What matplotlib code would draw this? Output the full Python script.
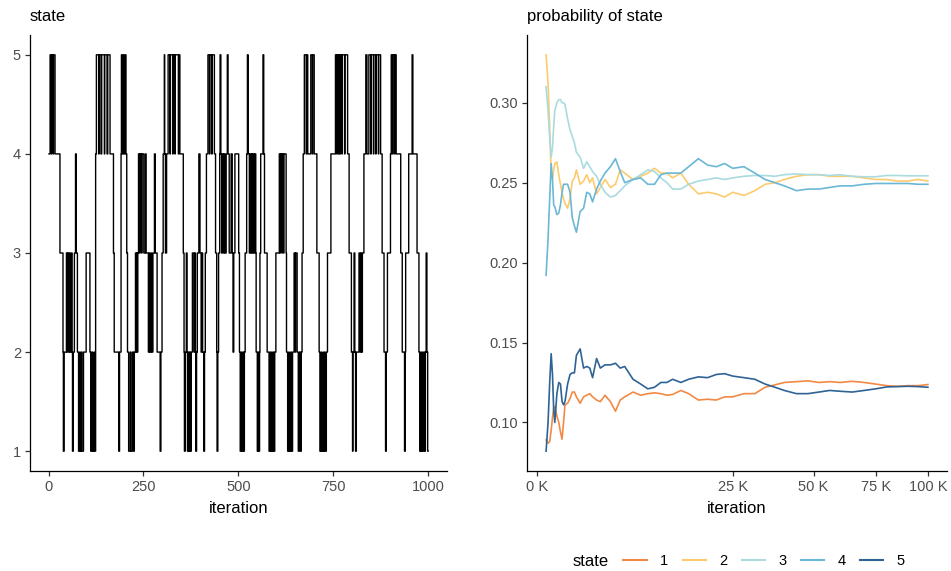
import numpy as np
import matplotlib
matplotlib.use('Agg')
import matplotlib.pyplot as plt
from matplotlib.lines import Line2D

plt.rcParams['font.family'] = ['Liberation Sans', 'DejaVu Sans']

# state trace: runs of (state, length in iterations)
state_runs = [
    (4, 3), (5, 3), (4, 1), (5, 4), (4, 1), (5, 4), (4, 13), (3, 8),
    (2, 1), (1, 2), (2, 6), (3, 2), (2, 1), (3, 3), (2, 2), (3, 2), (2, 3), (3, 2),
    (2, 1), (1, 2), (2, 3), (3, 3), (4, 2), (3, 3),
    (2, 3), (1, 3), (2, 1), (1, 3), (2, 2), (1, 4), (2, 7), (3, 10),
    (2, 2), (1, 3), (2, 2), (1, 4), (2, 1), (1, 3), (4, 2),
    (5, 6), (4, 1), (5, 5), (4, 2), (5, 7), (4, 1), (5, 6), (4, 2), (5, 6), (4, 9),
    (3, 2), (2, 12), (1, 2), (2, 4),
    (4, 1), (5, 2), (4, 3), (5, 2), (4, 3), (5, 2), (4, 2), (3, 2), (2, 3),
    (1, 4), (2, 2), (1, 4), (2, 3), (1, 2), (2, 3),
    (3, 2), (2, 1), (3, 2), (2, 1), (3, 2), (4, 3), (3, 1), (4, 4), (3, 1), (4, 5),
    (3, 4), (4, 2), (3, 6), (2, 2), (3, 2), (2, 3), (3, 2), (2, 3),
    (3, 4), (4, 2), (3, 5), (2, 8), (1, 2), (2, 3),
    (3, 3), (4, 3), (5, 1), (4, 2), (3, 3), (4, 4),
    (5, 5), (4, 1), (5, 6), (4, 1), (5, 5), (4, 1), (5, 8), (4, 1), (5, 3), (4, 9),
    (3, 2), (2, 1), (1, 2), (2, 3), (3, 2), (2, 1), (1, 2), (2, 2), (1, 2), (2, 2), (1, 2), (2, 3),
    (3, 4), (2, 2), (3, 2), (2, 1), (1, 2), (2, 2), (3, 4), (4, 3), (3, 3),
    (2, 2), (3, 2), (2, 3), (1, 2), (2, 2), (3, 3),
    (4, 4), (5, 4), (4, 1), (5, 5), (4, 1), (5, 6), (4, 3),
    (3, 3), (2, 1), (1, 2), (2, 2), (3, 3),
    (4, 1), (5, 2), (4, 2), (3, 2), (4, 3), (3, 2), (4, 2),
    (3, 3), (4, 3), (5, 2), (4, 3), (3, 5),
    (4, 3), (3, 2), (2, 2), (3, 3), (4, 10), (3, 2), (2, 2), (1, 3), (2, 1), (1, 3),
    (2, 2), (1, 2), (2, 2), (3, 4), (4, 2), (5, 2), (4, 3), (3, 2), (4, 2), (3, 2),
    (4, 2), (3, 2), (4, 2), (3, 2), (4, 3), (3, 1), (2, 3), (1, 2), (2, 1), (1, 3),
    (2, 1), (3, 2), (4, 6), (5, 2), (4, 2), (3, 7), (2, 5), (1, 3), (2, 1), (1, 3),
    (2, 1), (1, 3), (2, 2), (1, 2), (2, 3), (3, 9), (4, 2), (3, 1), (4, 4), (3, 1),
    (4, 3), (3, 1), (4, 6), (3, 1), (2, 3), (1, 3), (2, 1), (1, 4), (2, 2), (1, 3),
    (2, 4), (3, 3), (2, 1), (3, 4), (2, 3), (1, 3), (2, 3), (1, 2), (2, 2), (3, 3),
    (4, 3), (5, 5), (4, 1), (5, 3), (4, 8), (5, 4), (4, 1), (5, 4), (4, 7), (3, 6),
    (2, 2), (1, 3), (2, 1), (1, 4), (2, 1), (1, 3), (2, 2), (1, 3), (2, 3), (3, 9),
    (4, 12),
    (5, 3), (4, 1), (5, 3), (4, 2), (5, 2), (4, 2), (5, 4), (4, 1), (5, 6), (4, 1),
    (5, 7), (4, 4), (3, 6), (2, 3), (1, 1), (2, 3), (3, 2), (2, 2), (1, 2), (2, 7),
    (3, 3), (2, 2), (3, 2), (2, 2), (3, 4), (4, 5), (5, 3), (4, 5), (5, 5), (4, 1),
    (5, 6), (4, 1), (5, 5), (4, 1), (5, 6), (4, 1), (5, 5), (4, 4), (3, 5), (2, 4),
    (1, 2), (2, 3), (3, 8), (4, 2), (5, 3), (4, 2), (5, 4), (4, 1), (5, 3), (4, 12),
    (3, 4), (2, 6), (1, 2), (2, 1), (3, 8), (4, 9), (5, 2), (4, 11), (3, 5), (2, 2),
    (1, 3), (2, 1), (1, 3), (2, 1), (1, 3), (2, 2), (1, 2), (2, 2), (3, 2), (2, 2),
    (1, 2),
]

# running probability of each state
iters = [50, 75, 100, 125, 150, 175, 200, 250, 300, 350, 400, 450, 500, 600, 700,
         800, 900, 1000, 1200, 1400, 1600, 1800, 2000, 2300, 2600, 3000, 3500, 4000,
         4500, 5000, 6000, 7000, 8000, 9000, 10000, 11000, 12000, 13500, 15000, 17000,
         19000, 21000, 23000, 25000, 28000, 31000, 34000, 37000, 40000, 44000, 48000,
         52000, 56000, 60000, 65000, 70000, 75000, 80000, 85000, 90000, 95000, 100000]
p1 = [0.089, 0.087, 0.088, 0.095, 0.103, 0.109, 0.110, 0.104, 0.100, 0.094,
      0.0895, 0.100, 0.111, 0.112, 0.115, 0.119, 0.119, 0.116, 0.112, 0.116,
      0.117, 0.118, 0.116, 0.114, 0.113, 0.117, 0.113, 0.107, 0.114, 0.116,
      0.119, 0.117, 0.118, 0.1185, 0.118, 0.117, 0.1175, 0.120, 0.118, 0.114,
      0.1145, 0.114, 0.116, 0.116, 0.118, 0.118, 0.122, 0.1235, 0.125, 0.1255,
      0.126, 0.125, 0.1255, 0.125, 0.1257, 0.125, 0.124, 0.123, 0.1226, 0.123,
      0.123, 0.1237]
p2 = [0.330, 0.312, 0.285, 0.255, 0.252, 0.258, 0.262, 0.263, 0.255, 0.249,
      0.244, 0.240, 0.237, 0.234, 0.240, 0.251, 0.253, 0.258, 0.249, 0.251,
      0.255, 0.250, 0.253, 0.243, 0.247, 0.252, 0.247, 0.249, 0.258, 0.256,
      0.252, 0.254, 0.256, 0.259, 0.256, 0.256, 0.253, 0.256, 0.249, 0.243,
      0.244, 0.243, 0.241, 0.244, 0.242, 0.245, 0.249, 0.250, 0.252, 0.254,
      0.255, 0.255, 0.254, 0.254, 0.254, 0.253, 0.252, 0.252, 0.251, 0.251,
      0.252, 0.251]
p3 = [0.310, 0.295, 0.278, 0.266, 0.272, 0.285, 0.295, 0.300, 0.302, 0.302,
      0.300, 0.300, 0.299, 0.290, 0.283, 0.279, 0.275, 0.269, 0.266, 0.259,
      0.263, 0.260, 0.257, 0.254, 0.249, 0.244, 0.241, 0.242, 0.245, 0.248,
      0.252, 0.255, 0.258, 0.257, 0.253, 0.250, 0.246, 0.246, 0.249, 0.251,
      0.252, 0.253, 0.252, 0.253, 0.254, 0.2545, 0.2545, 0.254, 0.255, 0.2555,
      0.255, 0.255, 0.2545, 0.255, 0.254, 0.2537, 0.2537, 0.2545, 0.2545, 0.2543,
      0.2543, 0.2543]
p4 = [0.192, 0.215, 0.240, 0.262, 0.252, 0.236, 0.235, 0.230, 0.231, 0.236,
      0.244, 0.249, 0.249, 0.249, 0.244, 0.228, 0.223, 0.219, 0.232, 0.234,
      0.244, 0.243, 0.238, 0.246, 0.251, 0.256, 0.260, 0.265, 0.257, 0.250,
      0.252, 0.253, 0.249, 0.249, 0.255, 0.256, 0.256, 0.256, 0.260, 0.265,
      0.261, 0.260, 0.262, 0.259, 0.260, 0.256, 0.252, 0.250, 0.248, 0.245,
      0.246, 0.246, 0.247, 0.248, 0.248, 0.249, 0.2495, 0.2495, 0.2495, 0.2495,
      0.249, 0.249]
p5 = [0.082, 0.100, 0.125, 0.143, 0.130, 0.108, 0.100, 0.118, 0.125, 0.124,
      0.113, 0.111, 0.113, 0.124, 0.130, 0.131, 0.131, 0.142, 0.146, 0.134,
      0.135, 0.134, 0.128, 0.140, 0.134, 0.136, 0.136, 0.137, 0.134, 0.135,
      0.127, 0.124, 0.121, 0.122, 0.125, 0.125, 0.127, 0.125, 0.127, 0.1285,
      0.128, 0.130, 0.1305, 0.129, 0.128, 0.127, 0.124, 0.122, 0.120, 0.118,
      0.118, 0.119, 0.120, 0.1195, 0.119, 0.120, 0.121, 0.1222, 0.1224, 0.1226,
      0.1224, 0.122]

state_labels = ['1', '2', '3', '4', '5']
state_colors = ['#F28A45', '#FDCB6E', '#A9DBDF', '#6BB7D6', '#2F6396']

tick_col = '#4D4D4D'

fig = plt.figure(figsize=(9.51, 5.71), dpi=100)
ax1 = fig.add_axes([30 / 951, 1 - 471 / 571, 417 / 951, 436 / 571])
ax2 = fig.add_axes([527 / 951, 1 - 471 / 571, 420 / 951, 436 / 571])

# --- left: state trace
trace = np.repeat([s for s, n in state_runs], [n for s, n in state_runs])
it = np.arange(1, len(trace) + 1)
ax1.plot(it, trace, color='black', lw=1.0, drawstyle='steps-post')
span = it[-1] - it[0]
ax1.set_xlim(it[0] - 0.05 * span, it[-1] + 0.05 * span)
ax1.set_ylim(0.8, 5.2)
ax1.set_xticks([0, 250, 500, 750, 1000])
ax1.set_yticks([1, 2, 3, 4, 5])
ax1.set_xlabel('iteration', fontsize=12, labelpad=5)
ax1.set_title('state', loc='left', fontsize=12, pad=10)


# --- right: running probabilities, sqrt x axis
def fwd(x):
    return np.sign(x) * np.sqrt(np.abs(x))


def inv(y):
    return np.sign(y) * y ** 2


ax2.set_xscale('function', functions=(fwd, inv))
for vals, lab, col in zip([p1, p2, p3, p4, p5], state_labels, state_colors):
    ax2.plot(iters, vals, color=col, lw=1.2, label=lab)
t0, t1 = np.sqrt(iters[0]), np.sqrt(iters[-1])
pad = 0.05 * (t1 - t0)
ax2.set_xlim(inv(t0 - pad), inv(t1 + pad))
allp = np.concatenate([p1, p2, p3, p4, p5])
ypad = 0.05 * (allp.max() - allp.min())
ax2.set_ylim(allp.min() - ypad, allp.max() + ypad)
xt = [0, 25000, 50000, 75000, 100000]
ax2.set_xticks(xt)
ax2.set_xticklabels(['%d K' % (v // 1000) for v in xt])
ax2.set_yticks([0.10, 0.15, 0.20, 0.25, 0.30])
ax2.set_yticklabels(['0.10', '0.15', '0.20', '0.25', '0.30'])
ax2.set_xlabel('iteration', fontsize=12, labelpad=5)
ax2.set_title('probability of state', loc='left', fontsize=12, pad=10)

for ax in (ax1, ax2):
    ax.spines['top'].set_visible(False)
    ax.spines['right'].set_visible(False)
    for s in ('left', 'bottom'):
        ax.spines[s].set_linewidth(0.9)
        ax.spines[s].set_color('black')
    ax.tick_params(length=3.5, width=0.9, color='#333333', labelcolor=tick_col,
                   labelsize=10.5, pad=3)
    ax.minorticks_off()

handles = [Line2D([], [], color=c, lw=1.5) for c in state_colors]
fig.legend(handles, state_labels, loc='center', bbox_to_anchor=(764 / 951, 1 - 561 / 571),
           ncol=5, frameon=False, fontsize=10.5, handlelength=1.6, handletextpad=0.9,
           columnspacing=1.0)
fig.text(573 / 951, 1 - 561 / 571, 'state', fontsize=12, va='center', ha='left')

fig.savefig('out.png', dpi=100)
